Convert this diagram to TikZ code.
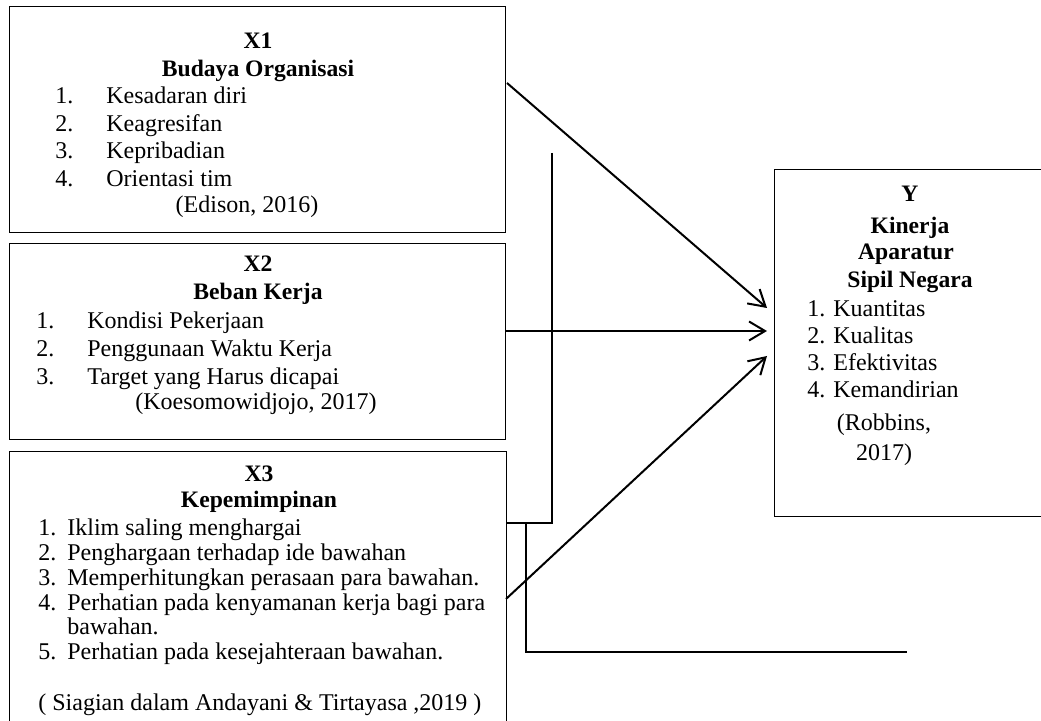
\documentclass[tikz,border=0pt]{standalone}
\usepackage{fontspec}
\setmainfont{Liberation Serif}
\usetikzlibrary{arrows.meta}
\tikzset{
  box/.style={draw, line width=0.55pt, inner sep=0pt, anchor=north west},
  txt/.style={inner sep=0pt, anchor=base west, font=\fontsize{12}{13.75}\selectfont},
  ctxt/.style={inner sep=0pt, anchor=base, font=\fontsize{12}{13.75}\selectfont},
  hdr/.style={inner sep=0pt, anchor=base, font=\fontsize{11.8}{13.75}\selectfont\bfseries},
  arr/.style={line width=1pt, -{Straight Barb[length=8pt, width=9.5pt, line width=1pt]}},
  conn/.style={line width=1.1pt},
}
\newcommand{\numA}[1]{\makebox[25.5pt][l]{#1}}
\newcommand{\numB}[1]{\makebox[25.5pt][l]{#1}}
\newcommand{\numC}[1]{\makebox[14.5pt][l]{#1}}
\newcommand{\numD}[1]{\makebox[13pt][l]{#1}}
\begin{document}
\begin{tikzpicture}[x=0.5pt, y=-0.5pt]
\useasboundingbox (0,0) rectangle (1041,721);
% boxes
\node[box, minimum width=248pt, minimum height=113pt] (x1) at (9,6) {};
\node[box, minimum width=248pt, minimum height=98pt] (x2) at (9,243) {};
\node[box, minimum width=248.5pt, minimum height=150pt] (x3) at (9,451) {};
\node[box, minimum width=200pt, minimum height=173.5pt] (yb) at (774,169) {};
% X1 text
\node[hdr] (x1h) at (258,49) {X1};
\node[hdr] (x1t) at (258,76.5) {Budaya Organisasi};
\node[txt] (x1a) at (55,104) {\numA{1.}Kesadaran diri};
\node[txt] (x1b) at (55,131.5) {\numA{2.}Keagresifan};
\node[txt] (x1c) at (55,159) {\numA{3.}Kepribadian};
\node[txt] (x1d) at (55,186.5) {\numA{4.}Orientasi tim};
\node[ctxt] (x1s) at (247,213) {(Edison, 2016)};
% X2 text
\node[hdr] (x2h) at (258,272) {X2};
\node[hdr] (x2t) at (258,300) {Beban Kerja};
\node[txt] (x2a) at (36,329) {\numB{1.}Kondisi Pekerjaan};
\node[txt] (x2b) at (36,357) {\numB{2.}Penggunaan Waktu Kerja};
\node[txt] (x2c) at (36,385) {\numB{3.}Target yang Harus dicapai};
\node[ctxt] (x2s) at (256,410) {(Koesomowidjojo, 2017)};
% X3 text
\node[hdr] (x3h) at (259,482) {X3};
\node[hdr] (x3t) at (259,508) {Kepemimpinan};
\node[txt] (x3a) at (38,536) {\numC{1.}Iklim saling menghargai};
\node[txt] (x3b) at (38,561) {\numC{2.}Penghargaan terhadap ide bawahan};
\node[txt] (x3c) at (38,586) {\numC{3.}Memperhitungkan perasaan para bawahan.};
\node[txt] (x3d) at (38,611) {\numC{4.}Perhatian pada kenyamanan kerja bagi para};
\node[txt] (x3e) at (67,635) {bawahan.};
\node[txt] (x3f) at (38,660) {\numC{5.}Perhatian pada kesejahteraan bawahan.};
\node[txt] (x3s) at (38,711) {( Siagian dalam Andayani \& Tirtayasa ,2019 )};
% Y text
\node[hdr] (yh) at (910,202) {Y};
\node[hdr] (yt1) at (910,234) {Kinerja};
\node[hdr] (yt2) at (906,260) {Aparatur};
\node[hdr] (yt3) at (910,288) {Sipil Negara};
\node[txt] (ya) at (807,317) {\numD{1.}Kuantitas};
\node[txt] (yb1) at (807,344) {\numD{2.}Kualitas};
\node[txt] (yc) at (807,371) {\numD{3.}Efektivitas};
\node[txt] (yd) at (807,398) {\numD{4.}Kemandirian};
\node[ctxt] (ys1) at (884,431) {(Robbins,};
\node[ctxt] (ys2) at (884,461) {2017)};
% connector points
\coordinate (s1) at (507,83);
\coordinate (e1) at (767,308);
\coordinate (s2) at (505,331);
\coordinate (e2) at (767,331);
\coordinate (s3) at (506,599);
\coordinate (e3) at (767,356);
\coordinate (v1t) at (552,153);
\coordinate (v1b) at (552,523);
\coordinate (v1l) at (507,523);
\coordinate (v2t) at (526,523);
\coordinate (v2b) at (526,652);
\coordinate (v2r) at (907,652);
% connectors
\draw[arr] (s1) -- (e1);
\draw[arr] (s2) -- (e2);
\draw[arr] (s3) -- (e3);
\draw[conn] (v1t) -- (v1b) -- (v1l);
\draw[conn] (v2t) -- (v2b) -- (v2r);
\end{tikzpicture}
\end{document}
